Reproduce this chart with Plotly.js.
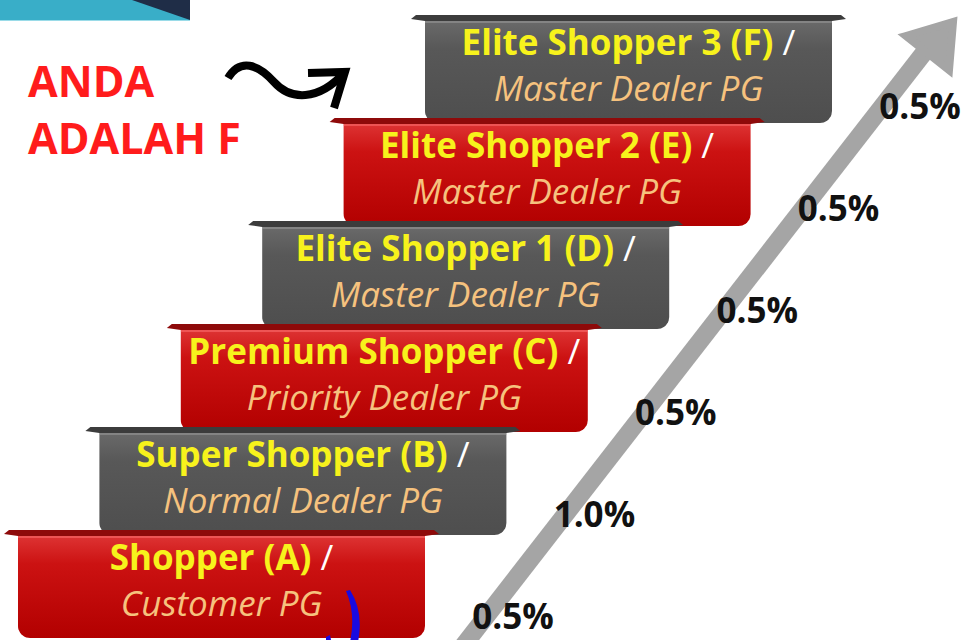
<!DOCTYPE html>
<html>
<head>
<meta charset="utf-8">
<script src="https://cdn.plot.ly/plotly-3.0.1.min.js"></script>
<style>html,body{margin:0;padding:0;background:#fff;}#chart{width:964px;height:640px;}</style>
</head>
<body>
<div id="chart"></div>
<script>
// ---- data ----
const levels = ['Shopper (A)', 'Super Shopper (B)', 'Premium Shopper (C)', 'Elite Shopper 1 (D)', 'Elite Shopper 2 (E)', 'Elite Shopper 3 (F)'];
const dealerTiers = ['Customer PG', 'Normal Dealer PG', 'Priority Dealer PG', 'Master Dealer PG', 'Master Dealer PG', 'Master Dealer PG'];
const rates = [0.5, 1.0, 0.5, 0.5, 0.5, 0.5];
const youAreText = ['ANDA', 'ADALAH F'];

// ---- layout geometry ----
const W = 964, H = 640;
const stepLeft0 = 18, stepTop0 = 530, stepDx = 81.4, stepDy = 103, stepW = 407, stepH = 108, radius = 12;
const redScale = [[0, '#b20000'], [0.7, '#cc1212'], [1, '#e03838']];
const grayScale = [[0, '#4e4e4e'], [0.7, '#585858'], [1, '#6c6c6c']];

function bodyPath(l, t, w, h, r) {
  const xs = [l, l + w], ys = [t, t];
  const n = 10;
  for (let k = 0; k <= n; k++) { const a = k / n * Math.PI / 2; xs.push(l + w - r + r * Math.cos(a)); ys.push(t + h - r + r * Math.sin(a)); }
  for (let k = 0; k <= n; k++) { const a = Math.PI / 2 + k / n * Math.PI / 2; xs.push(l + r + r * Math.cos(a)); ys.push(t + h - r + r * Math.sin(a)); }
  xs.push(l); ys.push(t);
  return {x: xs, y: ys};
}

const traces = [];
// draw from top step (F) down to bottom step (A) so lower steps overlap
for (let i = levels.length - 1; i >= 0; i--) {
  const l = stepLeft0 + i * stepDx, t = stepTop0 - i * stepDy;
  const isRed = i % 2 === 0;
  const p = bodyPath(l, t + 2, stepW, stepH - 2, radius);
  traces.push({x: p.x, y: p.y, mode: 'lines', fill: 'toself', line: {width: 0, color: 'rgba(0,0,0,0)'},
    fillcolor: isRed ? '#c40a0a' : '#585858',
    fillgradient: {type: 'vertical', colorscale: isRed ? redScale : grayScale},
    hoverinfo: 'skip'});
  // folded lip at the top
  traces.push({x: [l - 14, l - 9, l + stepW + 9, l + stepW + 14, l + stepW, l, l - 14],
    y: [t + 4, t, t, t + 4, t + 6, t + 6, t + 4], mode: 'lines', fill: 'toself',
    line: {width: 0, color: 'rgba(0,0,0,0)'}, fillcolor: isRed ? '#8e0a0a' : '#3c3c3c', hoverinfo: 'skip'});
  traces.push({x: [l, l + stepW], y: [t + 7, t + 7], mode: 'lines', line: {width: 2, color: isRed ? 'rgba(255,120,120,0.5)' : 'rgba(160,160,160,0.5)'}, hoverinfo: 'skip'});
}

// two-line label per step (one text element each)
const cx = levels.map((_, i) => stepLeft0 + i * stepDx + stepW / 2);
traces.push({x: cx, y: levels.map((_, i) => stepTop0 - i * stepDy + 54), mode: 'text',
  text: levels.map((s, i) => '<b>' + s + '</b> <span style="color:#ffffff">/</span><br><i><span style="color:#f6c27e">' + dealerTiers[i] + '</span></i>'),
  textfont: {family: 'Open Sans', size: 35, color: '#f7f21c'}, textposition: 'middle center', hoverinfo: 'skip'});

// rate labels
traces.push({x: rates.map((_, i) => 513 + i * stepDx), y: rates.map((_, i) => 620 - i * 102), mode: 'text',
  text: rates.map(r => '<b>' + r.toFixed(1) + '%</b>'),
  textfont: {family: 'Open Sans', size: 35, color: '#111111'}, textposition: 'middle center', hoverinfo: 'skip'});

// "ANDA ADALAH F"
traces.push({x: [28, 28], y: [86, 143], mode: 'text', text: youAreText.map(s => '<b>' + s + '</b>'),
  textfont: {family: 'Open Sans', size: 43, color: '#ff1c1c'}, textposition: 'middle right', hoverinfo: 'skip'});

const shapes = [
  // top-left banner
  {type: 'rect', xref: 'x', yref: 'y', x0: 0, x1: 190, y0: 0, y1: 20, fillcolor: '#39aec8', line: {width: 0}, layer: 'below'},
  {type: 'path', xref: 'x', yref: 'y', path: 'M 132 0 L 190 0 L 190 20 Z', fillcolor: '#1f2d47', line: {width: 0}, layer: 'below'},
  {type: 'line', xref: 'x', yref: 'y', x0: 0, x1: 190, y0: 20.5, y1: 20.5, line: {width: 1, color: '#9adbe8'}, layer: 'below'},
  // big rising arrow
  {type: 'line', xref: 'x', yref: 'y', x0: 460, y0: 650, x1: 930, y1: 45, line: {width: 18, color: '#a5a5a5'}, layer: 'below'},
  {type: 'path', xref: 'x', yref: 'y', path: 'M 906 36 L 953 22 L 949 70 Z', fillcolor: '#a5a5a5', line: {width: 8, color: '#a5a5a5'}, layer: 'below'},
  // squiggle arrow
  {type: 'path', xref: 'x', yref: 'y', path: 'M 228 78 C 240 58, 258 64, 274 82 S 318 102, 345 72', line: {width: 8, color: '#000000'}, layer: 'below'},
  {type: 'path', xref: 'x', yref: 'y', path: 'M 308 73 L 345 72 L 334 108', line: {width: 8, color: '#000000'}, layer: 'below'},
  // blue bracket
  {type: 'path', xref: 'x', yref: 'y', path: 'M 346 591 Q 356 614 350 642 L 358 642 Q 364 612 350 590 Z', fillcolor: '#1a0ae0', line: {width: 0}, layer: 'above'},
  {type: 'path', xref: 'x', yref: 'y', path: 'M 326 637 L 330 635 L 331 640 L 326 640 Z', fillcolor: '#1a0ae0', line: {width: 0}, layer: 'above'}
];

const layout = {
  width: W, height: H, margin: {l: 0, r: 0, t: 0, b: 0},
  paper_bgcolor: '#ffffff', plot_bgcolor: '#ffffff', showlegend: false,
  xaxis: {range: [0, W], visible: false, fixedrange: true},
  yaxis: {range: [H, 0], visible: false, fixedrange: true},
  shapes: shapes
};
Plotly.newPlot('chart', traces, layout, {displayModeBar: false, staticPlot: true});
</script>
</body>
</html>
